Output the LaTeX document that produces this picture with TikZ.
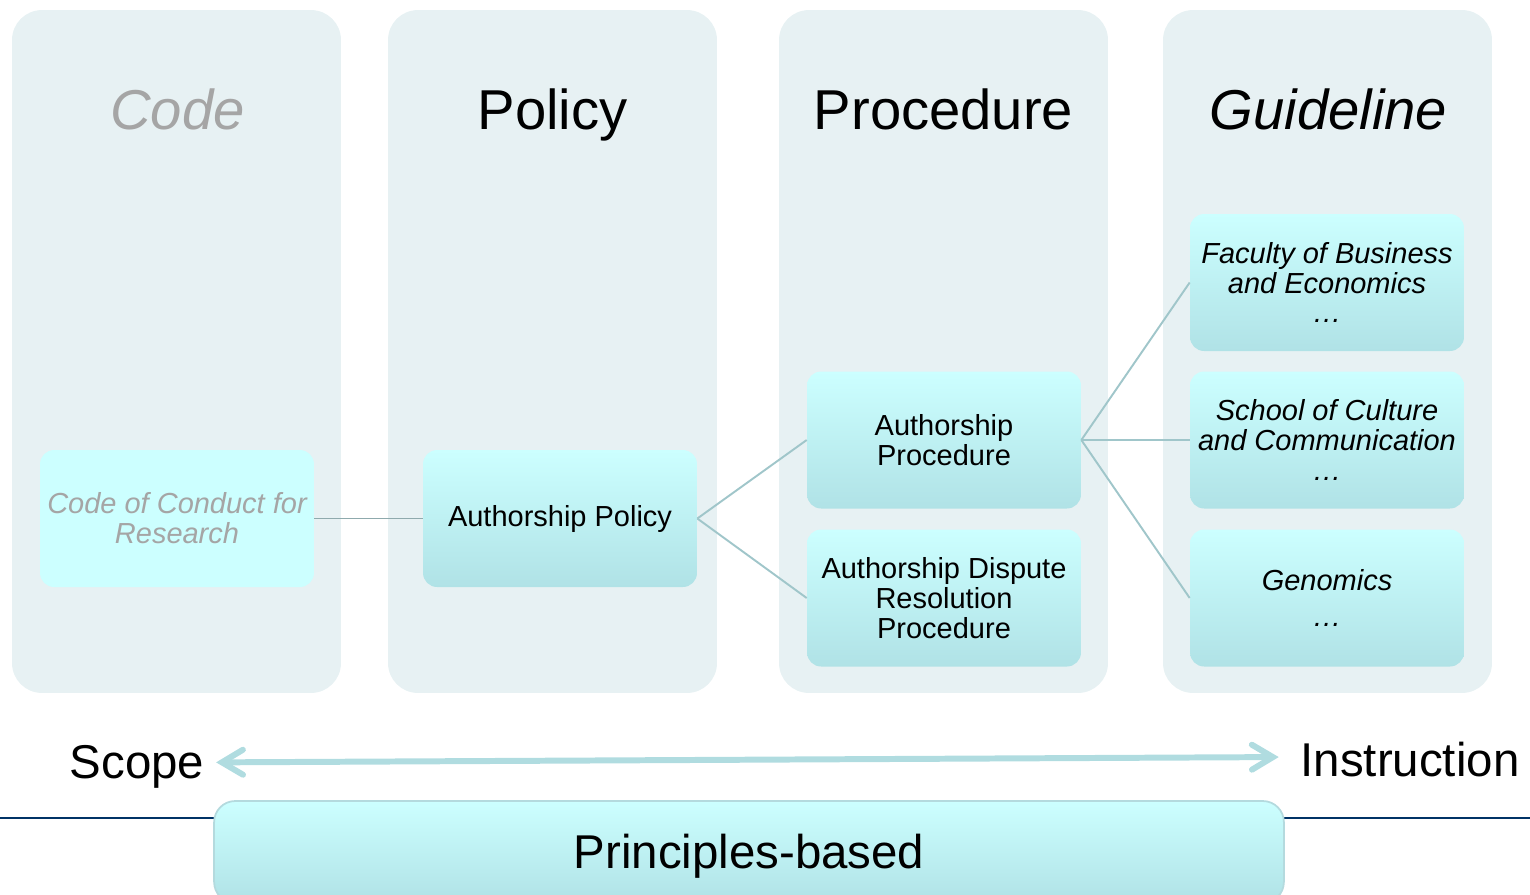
\documentclass[tikz,border=0pt]{standalone}
\usepackage{fontspec}
\setmainfont{Liberation Sans}
\usetikzlibrary{arrows.meta, positioning, calc}
\definecolor{cPanelFill}{RGB}{231, 241, 243}
\definecolor{cCardTop}{RGB}{204, 255, 255}
\definecolor{cCardBottom}{RGB}{176, 226, 230}
\definecolor{cCardDraw}{RGB}{180, 218, 222}
\definecolor{cLink}{RGB}{160, 198, 202}
\definecolor{cLinkDark}{RGB}{143, 170, 173}
\definecolor{cScale}{RGB}{176, 220, 224}
\definecolor{cRule}{RGB}{0, 51, 102}
\definecolor{cFaded}{RGB}{165, 165, 165}
\tikzset{
    % --- columns ---
    panel/.style={
        rectangle, fill=cPanelFill, rounded corners=17pt,
        minimum width=6.58cm, minimum height=13.66cm, inner sep=0pt
    },
    panelTitle/.style={
        font=\fontsize{32}{36}\selectfont, text=black, anchor=base
    },
    %
    % --- cards ---
    card/.style={
        rectangle, rounded corners=8pt,
        top color=cCardTop, bottom color=cCardBottom,
        minimum width=5.48cm, minimum height=2.74cm,
        inner sep=2pt, align=center,
        font=\fontsize{16.5}{17}\selectfont
    },
    cardFaded/.style={
        card, top color=cCardTop, bottom color=cCardTop,
        text=cFaded, font=\fontsize{16.5}{17}\selectfont\itshape
    },
    cardGuide/.style={
        card, font=\fontsize{16.5}{17}\selectfont\itshape
    },
    %
    % --- links and scale ---
    link/.style={draw=cLink, line width=1.1pt},
    scaleLabel/.style={font=\fontsize{27}{30}\selectfont, inner sep=2pt, anchor=base},
    scaleArrow/.style={
        draw=cScale, line width=3.4pt,
        {Straight Barb[length=0.42cm, width=0.5cm, line cap=round]}-{Straight Barb[length=0.42cm, width=0.5cm, line cap=round]}
    },
    bar/.style={
        rectangle, rounded corners=12pt, draw=cCardDraw, line width=1pt,
        top color=cCardTop, bottom color=cCardBottom,
        minimum width=21.4cm, minimum height=2.04cm,
        font=\fontsize{27}{30}\selectfont
    }
}

\begin{document}
\begin{tikzpicture}[x=0.02cm, y=-0.02cm]

	\useasboundingbox (0,0) rectangle (1530,894);

	% =========================================
	% 1. columns
	% =========================================

	\node [panel] (pCode) at (176.5,351.5) {};
	\node [panel] (pPolicy) at (552.5,351.5) {};
	\node [panel] (pProc) at (943.5,351.5) {};
	\node [panel] (pGuide) at (1327.5,351.5) {};

	\node [panelTitle, text=cFaded, font=\fontsize{32}{36}\selectfont\itshape] (tCode) at ($(pCode.north)+(1,120)$) {Code};
	\node [panelTitle] (tPolicy) at ($(pPolicy.north)+(0,120)$) {Policy};
	\node [panelTitle] (tProc) at ($(pProc.north)+(0,120)$) {Procedure};
	\node [panelTitle, font=\fontsize{32}{36}\selectfont\itshape] (tGuide) at ($(pGuide.north)+(1,120)$) {Guideline};

	% =========================================
	% 2. cards
	% =========================================

	\node [cardFaded] (coc) at (177,518.5) {Code of Conduct for\\Research};
	\node [card] (pol) at (560,518.5) {Authorship Policy};

	\node [card] (ap) at (944,440) {Authorship\\Procedure};
	\node [card] (adrp) at (944,598) {Authorship Dispute\\Resolution\\Procedure};

	\node [cardGuide] (fbe) at (1327,282.5) {Faculty of Business\\and Economics\\\dots};
	\node [cardGuide] (sc) at (1327,440) {School of Culture\\and Communication\\\dots};
	\node [cardGuide] (gen) at (1327,598) {Genomics\\[4pt]\dots};

	% =========================================
	% 3. links
	% =========================================

	\draw [link, draw=cLinkDark] (coc.east) -- (pol.west);
	\draw [link] (pol.east) -- (ap.west);
	\draw [link] (pol.east) -- (adrp.west);
	\draw [link] (ap.east) -- (fbe.west);
	\draw [link] (ap.east) -- (sc.west);
	\draw [link] (ap.east) -- (gen.west);

	% =========================================
	% 4. scale
	% =========================================

	\node [scaleLabel] (scope) at (137,778) {Scope};
	\node [scaleLabel] (instr) at (1410,776) {Instruction};
	\draw [scaleArrow] ($(scope.east)+(8,-4)$) -- ($(instr.west)+(-18,-2)$);

	\coordinate (ruleL) at (0,818);
	\coordinate (ruleR) at (1530,818);
	\draw [cRule, line width=1.2pt] (ruleL) -- (ruleR);

	\node [bar] (base) at (749,852) {};
	\node [scaleLabel] (baseText) at (749,868) {Principles-based};

\end{tikzpicture}
\end{document}
